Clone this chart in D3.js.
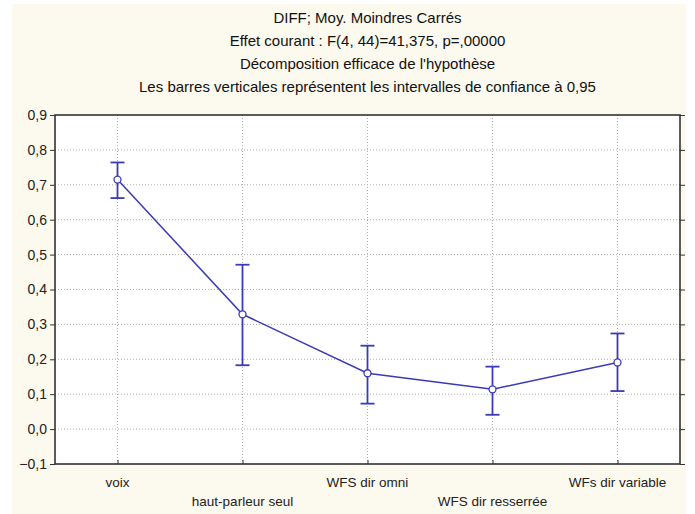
<!DOCTYPE html>
<html>
<head>
<meta charset="utf-8">
<script src="https://cdn.jsdelivr.net/npm/d3@7"></script>
<style>
  body { margin: 0; background: #fff; }
  svg { display: block; font-family: "Liberation Sans", Arial, sans-serif; }
</style>
</head>
<body>
<div id="chart"></div>
<script>
// data
const categories = ["voix", "haut-parleur seul", "WFS dir omni", "WFS dir resserrée", "WFs dir variable"];
const means = [0.715, 0.329, 0.160, 0.114, 0.191];
const ciLow = [0.662, 0.183, 0.073, 0.041, 0.109];
const ciHigh = [0.764, 0.471, 0.239, 0.179, 0.274];
const yTicks = [-0.1, 0, 0.1, 0.2, 0.3, 0.4, 0.5, 0.6, 0.7, 0.8, 0.9];
const titleLines = [
  "DIFF; Moy. Moindres Carrés",
  "Effet courant : F(4, 44)=41,375, p=,00000",
  "Décomposition efficace de l'hypothèse",
  "Les barres verticales représentent les intervalles de confiance à 0,95"
];

const width = 695, height = 514;
const margin = { top: 115, right: 15, bottom: 50, left: 55 };
const blue = "#3a3ab8";

const svg = d3.select("#chart").append("svg")
  .attr("width", width)
  .attr("height", height);

// cream panel
svg.append("rect")
  .attr("x", 12).attr("y", 4)
  .attr("width", 674).attr("height", height - 4)
  .attr("fill", "#fcf9ef");

const x = d3.scalePoint()
  .domain(categories)
  .range([margin.left, width - margin.right])
  .padding(0.5);

const y = d3.scaleLinear()
  .domain([-0.1, 0.9])
  .range([height - margin.bottom, margin.top]);

const fmt = d => d3.format(".1f")(d).replace(".", ",");

// plot area
svg.append("rect")
  .attr("x", margin.left).attr("y", margin.top)
  .attr("width", width - margin.left - margin.right)
  .attr("height", y(-0.1) - y(0.9))
  .attr("fill", "#fff");

// grid
svg.append("g")
  .selectAll("line")
  .data(yTicks.slice(1, -1))
  .join("line")
  .attr("x1", margin.left).attr("x2", width - margin.right)
  .attr("y1", d => y(d)).attr("y2", d => y(d))
  .attr("stroke", "#b0b0b0")
  .attr("stroke-dasharray", "1,2");

svg.append("g")
  .selectAll("line")
  .data(categories)
  .join("line")
  .attr("x1", d => x(d)).attr("x2", d => x(d))
  .attr("y1", y(0.9)).attr("y2", y(-0.1))
  .attr("stroke", "#b0b0b0")
  .attr("stroke-dasharray", "1,2");

// axes
const yAxis = svg.append("g")
  .attr("transform", `translate(${margin.left},0)`)
  .call(d3.axisLeft(y).tickValues(yTicks).tickFormat(fmt).tickSize(5).tickPadding(3));
yAxis.select(".domain").remove();
yAxis.selectAll("text").attr("font-size", 14).attr("fill", "#222");
yAxis.selectAll("line").attr("stroke", "#333");

const yAxisR = svg.append("g")
  .attr("transform", `translate(${width - margin.right},0)`)
  .call(d3.axisLeft(y).tickValues(yTicks).tickFormat("").tickSize(-5));
yAxisR.select(".domain").remove();
yAxisR.selectAll("line").attr("stroke", "#333");

const xAxis = svg.append("g")
  .attr("transform", `translate(0,${y(-0.1)})`)
  .call(d3.axisBottom(x).tickSize(-4).tickFormat(""));
xAxis.select(".domain").remove();
xAxis.selectAll("line").attr("stroke", "#333");

svg.append("g")
  .selectAll("text")
  .data(categories)
  .join("text")
  .attr("x", d => x(d))
  .attr("y", (d, i) => i % 2 === 0 ? 487 : 506)
  .attr("text-anchor", "middle")
  .attr("font-size", 13.5)
  .attr("fill", "#222")
  .text(d => d);

// frame
svg.append("rect")
  .attr("x", margin.left).attr("y", margin.top)
  .attr("width", width - margin.left - margin.right)
  .attr("height", y(-0.1) - y(0.9))
  .attr("fill", "none")
  .attr("stroke", "#333")
  .attr("stroke-width", 1.6);

// title
svg.append("g")
  .selectAll("text")
  .data(titleLines)
  .join("text")
  .attr("x", (margin.left + width - margin.right) / 2)
  .attr("y", (d, i) => 23 + i * 23)
  .attr("text-anchor", "middle")
  .attr("font-size", 15)
  .attr("fill", "#111")
  .text(d => d);

// error bars
const bars = svg.append("g").attr("stroke", blue).attr("stroke-width", 1.8);
categories.forEach((c, i) => {
  bars.append("line")
    .attr("x1", x(c)).attr("x2", x(c))
    .attr("y1", y(ciLow[i])).attr("y2", y(ciHigh[i]));
  [ciLow[i], ciHigh[i]].forEach(v => {
    bars.append("line")
      .attr("x1", x(c) - 7).attr("x2", x(c) + 7)
      .attr("y1", y(v)).attr("y2", y(v));
  });
});

// mean line
const line = d3.line()
  .x((d, i) => x(categories[i]))
  .y(d => y(d));

svg.append("path")
  .datum(means)
  .attr("d", line)
  .attr("fill", "none")
  .attr("stroke", blue)
  .attr("stroke-width", 1.5);

svg.append("g")
  .selectAll("circle")
  .data(means)
  .join("circle")
  .attr("cx", (d, i) => x(categories[i]))
  .attr("cy", d => y(d))
  .attr("r", 3.5)
  .attr("fill", "#fff")
  .attr("stroke", blue)
  .attr("stroke-width", 1.3);
</script>
</body>
</html>
